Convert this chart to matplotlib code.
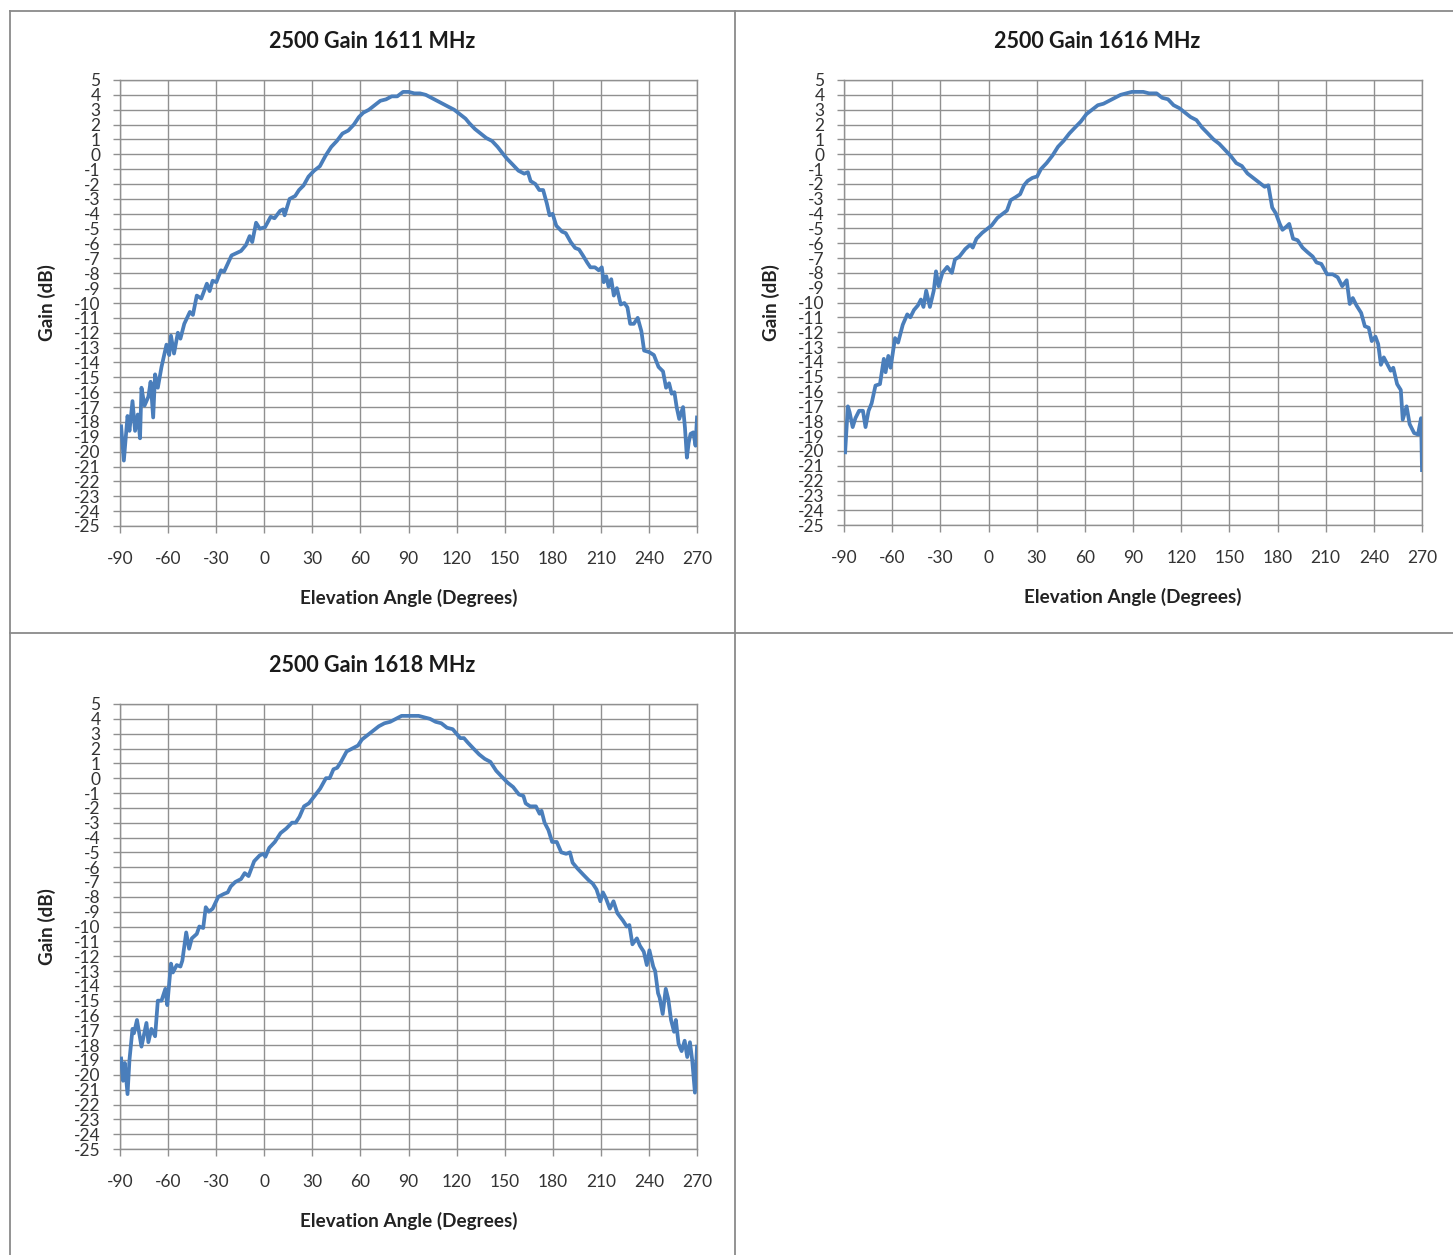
import numpy as np
import matplotlib
matplotlib.use("Agg")
import matplotlib.pyplot as plt
from matplotlib.lines import Line2D

plt.rcParams['font.family'] = ['Lato', 'DejaVu Sans']
plt.rcParams['axes.unicode_minus'] = False

# 1611 MHz
ang_1611 = [-89.3, -87.6, -85.3, -84.1, -82.2, -80.6, -78.9, -77.5, -76.6, -74.7,
            -72.3, -70.9, -69.3, -68.1, -66.4, -64.1, -61.0, -59.3, -58.2, -56.3,
            -53.9, -52.3, -49.9, -46.4, -44.5, -42.1, -39.3, -35.8, -34.1, -32.2,
            -29.9, -27.0, -25.1, -20.4, -14.5, -11.4, -9.1, -7.5, -5.1, -2.8,
            0.5, 4.0, 6.4, 9.9, 11.8, 12.7, 15.8, 19.3, 21.7, 24.5,
            27.6, 31.1, 34.7, 38.2, 41.8, 45.3, 48.8, 52.4, 55.9, 59.0,
            61.8, 65.3, 68.9, 72.4, 76.0, 79.5, 83.0, 86.6, 90.1, 93.7,
            97.2, 100.8, 104.3, 107.8, 111.4, 114.9, 118.5, 122.0, 125.6, 127.9,
            131.5, 135.0, 138.5, 142.1, 145.6, 149.2, 151.5, 155.1, 158.6, 162.2,
            164.5, 166.2, 169.2, 171.6, 174.0, 176.3, 178.0, 179.9, 182.2, 185.8,
            188.1, 191.2, 194.0, 196.4, 198.8, 201.6, 203.5, 206.3, 208.7, 210.6,
            211.8, 213.4, 214.8, 216.5, 218.1, 220.0, 222.4, 224.7, 226.6, 228.3,
            230.6, 233.0, 235.3, 237.0, 240.1, 243.1, 246.0, 248.8, 250.7, 252.6,
            254.2, 255.9, 257.3, 258.9, 261.3, 262.5, 263.7, 264.8, 266.0, 267.7,
            269.1, 270.0]
gain_1611 = [-18.3, -20.6, -17.6, -18.6, -16.6, -18.6, -17.5, -19.1, -15.7, -16.9,
             -16.3, -15.3, -17.7, -14.8, -15.7, -14.3, -12.8, -13.5, -12.2, -13.4,
             -12.0, -12.4, -11.4, -10.6, -10.8, -9.5, -9.7, -8.7, -9.2, -8.5,
             -8.6, -7.8, -7.9, -6.8, -6.5, -6.1, -5.5, -5.9, -4.6, -5.0,
             -4.9, -4.2, -4.3, -3.8, -3.7, -4.1, -3.0, -2.8, -2.4, -2.1,
             -1.5, -1.1, -0.8, -0.1, 0.5, 0.9, 1.4, 1.6, 2.0, 2.5,
             2.8, 3.0, 3.3, 3.6, 3.7, 3.9, 3.9, 4.2, 4.2, 4.1,
             4.1, 4.0, 3.8, 3.6, 3.4, 3.2, 3.0, 2.7, 2.4, 2.1,
             1.7, 1.4, 1.1, 0.9, 0.5, 0.0, -0.3, -0.7, -1.1, -1.3,
             -1.2, -1.8, -2.0, -2.4, -2.4, -3.3, -4.1, -4.0, -4.8, -5.2,
             -5.3, -5.9, -6.3, -6.4, -6.8, -7.3, -7.6, -7.6, -7.8, -7.6,
             -8.6, -8.2, -8.9, -8.4, -9.5, -9.0, -10.1, -10.0, -10.3, -11.4,
             -11.4, -11.0, -11.9, -13.2, -13.3, -13.5, -14.3, -14.6, -15.7, -15.4,
             -16.1, -16.0, -17.0, -17.8, -17.0, -18.4, -20.4, -19.4, -18.8, -18.7,
             -19.6, -17.7]

# 1616 MHz
ang_1616 = [-89.3, -87.6, -86.5, -84.6, -82.9, -80.6, -78.2, -76.6, -74.7, -72.8,
            -70.4, -67.6, -65.2, -64.1, -62.4, -61.0, -58.2, -56.3, -53.4, -50.6,
            -48.7, -46.4, -44.0, -42.1, -40.5, -38.8, -36.5, -34.1, -32.7, -31.1,
            -28.7, -25.7, -22.8, -20.9, -18.1, -14.5, -11.4, -9.8, -7.5, -3.9,
            -1.5, 2.0, 5.5, 9.1, 11.5, 13.8, 16.9, 19.7, 22.1, 24.4,
            27.3, 30.3, 32.7, 36.2, 39.8, 43.3, 46.8, 50.4, 53.9, 57.5,
            61.0, 64.5, 68.1, 71.6, 75.2, 78.7, 82.3, 85.8, 89.3, 92.9,
            96.4, 100.0, 104.7, 108.2, 111.8, 115.3, 118.9, 122.4, 125.9, 129.5,
            133.0, 136.6, 140.1, 143.7, 147.2, 150.7, 154.3, 157.8, 161.3, 164.9,
            168.4, 172.0, 174.3, 176.7, 179.0, 181.4, 183.1, 185.4, 187.3, 189.7,
            192.5, 195.6, 198.6, 201.9, 204.3, 207.3, 210.9, 214.4, 217.5, 220.3,
            223.1, 225.0, 226.9, 229.2, 232.1, 234.4, 236.8, 238.7, 241.0, 242.7,
            244.4, 246.2, 248.6, 250.5, 252.1, 254.5, 256.8, 258.0, 260.4, 262.3,
            265.1, 267.5, 269.4, 270.0]
gain_1616 = [-20.1, -17.0, -17.4, -18.4, -17.8, -17.3, -17.3, -18.4, -17.3, -16.8,
             -15.6, -15.5, -13.8, -14.7, -13.6, -14.4, -12.4, -12.7, -11.5, -10.8,
             -11.0, -10.5, -10.2, -9.8, -10.3, -9.2, -10.3, -9.2, -7.9, -8.9,
             -8.0, -7.6, -8.0, -7.1, -6.9, -6.4, -6.1, -6.3, -5.7, -5.3,
             -5.1, -4.8, -4.3, -4.0, -3.8, -3.1, -2.9, -2.7, -2.1, -1.8,
             -1.6, -1.5, -1.0, -0.6, -0.1, 0.5, 0.9, 1.4, 1.8, 2.2,
             2.7, 3.0, 3.3, 3.4, 3.6, 3.8, 4.0, 4.1, 4.2, 4.2,
             4.2, 4.1, 4.1, 3.8, 3.7, 3.3, 3.1, 2.8, 2.5, 2.3,
             1.8, 1.4, 1.0, 0.7, 0.3, -0.1, -0.6, -0.8, -1.3, -1.6,
             -1.9, -2.2, -2.1, -3.6, -4.0, -4.7, -5.1, -4.9, -4.7, -5.7,
             -5.8, -6.3, -6.6, -6.9, -7.3, -7.4, -8.1, -8.1, -8.3, -8.9,
             -8.5, -10.1, -9.7, -10.2, -10.7, -11.6, -11.7, -12.6, -12.3, -12.8,
             -14.2, -13.7, -14.2, -14.6, -14.4, -15.5, -15.9, -17.9, -17.0, -18.2,
             -18.8, -18.9, -17.8, -21.3]

# 1618 MHz
ang_1618 = [-89.3, -88.1, -87.0, -85.3, -84.1, -82.2, -81.3, -79.4, -76.6, -73.5,
            -72.3, -70.4, -68.1, -66.4, -64.1, -61.7, -60.5, -58.2, -57.0, -54.6,
            -52.3, -51.1, -48.7, -46.9, -45.2, -42.1, -40.5, -38.1, -36.5, -34.6,
            -32.2, -28.7, -25.1, -22.8, -20.9, -18.1, -14.5, -12.2, -9.8, -6.3,
            -2.8, -0.4, 0.7, 3.1, 6.6, 10.2, 13.7, 17.3, 19.6, 22.0,
            24.8, 27.8, 31.4, 34.9, 38.5, 40.8, 43.2, 45.5, 47.9, 51.4,
            55.0, 58.5, 60.9, 64.4, 68.0, 71.5, 75.0, 78.6, 82.1, 85.7,
            89.2, 92.8, 96.3, 99.8, 103.4, 106.9, 110.5, 114.0, 117.6, 119.9,
            122.3, 124.6, 127.0, 130.5, 134.1, 137.6, 141.1, 144.7, 148.2, 151.8,
            155.3, 158.9, 161.7, 163.1, 165.9, 169.5, 171.8, 173.0, 174.9, 177.3,
            179.6, 182.5, 185.3, 188.4, 190.7, 192.4, 195.5, 199.0, 202.6, 204.9,
            207.3, 209.7, 211.3, 213.2, 215.6, 217.9, 220.3, 223.8, 226.2, 227.8,
            229.7, 232.5, 234.4, 236.8, 238.7, 240.3, 242.7, 243.9, 245.7, 246.7,
            248.6, 250.5, 252.1, 253.8, 255.7, 256.8, 258.5, 260.4, 262.3, 263.9,
            265.6, 267.0, 268.7, 270.0]
gain_1618 = [-18.9, -20.4, -19.2, -21.3, -19.0, -16.9, -17.2, -16.3, -18.1, -16.5,
             -17.8, -16.9, -17.4, -15.0, -15.0, -14.2, -15.3, -12.5, -13.1, -12.6,
             -12.7, -12.3, -10.4, -11.5, -10.8, -10.5, -10.0, -10.1, -8.7, -9.0,
             -8.8, -8.0, -7.8, -7.7, -7.3, -7.0, -6.8, -6.4, -6.6, -5.6,
             -5.2, -5.1, -5.3, -4.7, -4.3, -3.7, -3.4, -3.0, -3.0, -2.6,
             -1.9, -1.7, -1.2, -0.7, 0.0, 0.0, 0.6, 0.7, 1.1, 1.8,
             2.0, 2.2, 2.6, 2.9, 3.2, 3.5, 3.7, 3.8, 4.0, 4.2,
             4.2, 4.2, 4.2, 4.1, 4.0, 3.8, 3.7, 3.4, 3.3, 3.0,
             2.7, 2.7, 2.4, 2.0, 1.6, 1.3, 1.1, 0.5, 0.1, -0.3,
             -0.6, -1.1, -1.2, -1.7, -1.9, -1.9, -2.4, -2.2, -3.0, -3.5,
             -4.3, -4.3, -5.0, -5.1, -5.0, -5.7, -6.1, -6.5, -6.9, -7.1,
             -7.5, -8.3, -7.7, -8.1, -8.8, -8.3, -9.1, -9.6, -10.0, -9.9,
             -11.2, -10.8, -11.3, -11.7, -12.6, -11.6, -12.7, -13.0, -14.5, -14.8,
             -15.9, -14.2, -14.9, -16.3, -17.1, -16.3, -17.9, -18.4, -17.7, -18.8,
             -17.8, -19.0, -21.2, -18.1]

titles = ['2500 Gain 1611 MHz', '2500 Gain 1616 MHz', '2500 Gain 1618 MHz']
x_ticks = list(range(-90, 271, 30))
y_ticks = list(range(-25, 6))

W, H = 1453, 1255
fig = plt.figure(figsize=(W / 100, H / 100), dpi=100)
fig.patch.set_facecolor('white')

line_col = '#4a7ebb'
grid_col = '#909090'
border_col = '#8a8a8a'


def px_axes(left, top, right, bottom):
    return fig.add_axes([left / W, 1 - bottom / H, (right - left) / W, (bottom - top) / H])


def make_panel(ax, ang, gain, title, cell_cx, title_y):
    ax.plot(ang, gain, color=line_col, linewidth=2.7, solid_joinstyle='round', zorder=3)
    ax.set_xlim(-90, 270)
    ax.set_ylim(-25, 5)
    ax.set_xticks(x_ticks)
    ax.set_yticks(y_ticks)
    ax.grid(True, color=grid_col, linewidth=1.0)
    ax.set_axisbelow(True)
    for s in ax.spines.values():
        s.set_color(grid_col)
        s.set_linewidth(1.0)
    ax.tick_params(axis='both', direction='out', length=5, width=1.0, color=grid_col,
                   labelsize=12.5, labelcolor='#333333')
    ax.tick_params(axis='y', pad=9)
    ax.tick_params(axis='x', pad=13)
    ax.set_xlabel('Elevation Angle (Degrees)', fontsize=13.6, fontweight='bold', color='#222222')
    ax.set_ylabel('Gain (dB)', fontsize=13.6, fontweight='bold', color='#222222')
    ax.xaxis.set_label_coords(0.5, -0.161)
    ax.yaxis.set_label_coords(-0.1265, 0.5)
    ax.xaxis.label.set_va('center')
    ax.yaxis.label.set_va('center')
    fig.text(cell_cx / W, 1 - title_y / H, title, ha='center', va='center',
             fontsize=15.5, fontweight='bold', color='#1a1a1a')


ax1 = px_axes(120, 80, 697, 526)
make_panel(ax1, ang_1611, gain_1611, titles[0], 372, 42)
ax2 = px_axes(844, 80, 1422, 525)
make_panel(ax2, ang_1616, gain_1616, titles[1], 1097, 41)
ax3 = px_axes(120, 704, 697, 1149)
make_panel(ax3, ang_1618, gain_1618, titles[2], 372, 665)

# table cell borders around the charts
def hline(y, x0, x1):
    fig.add_artist(Line2D([x0 / W, x1 / W], [1 - y / H, 1 - y / H], color=border_col, linewidth=1.3))


def vline(x, y0, y1):
    fig.add_artist(Line2D([x / W, x / W], [1 - y0 / H, 1 - y1 / H], color=border_col, linewidth=1.3))


hline(11, 10, W)
hline(633, 10, W)
vline(10, 11, H)
vline(735, 11, H)

fig.savefig('out.png', dpi=100, facecolor='white')
